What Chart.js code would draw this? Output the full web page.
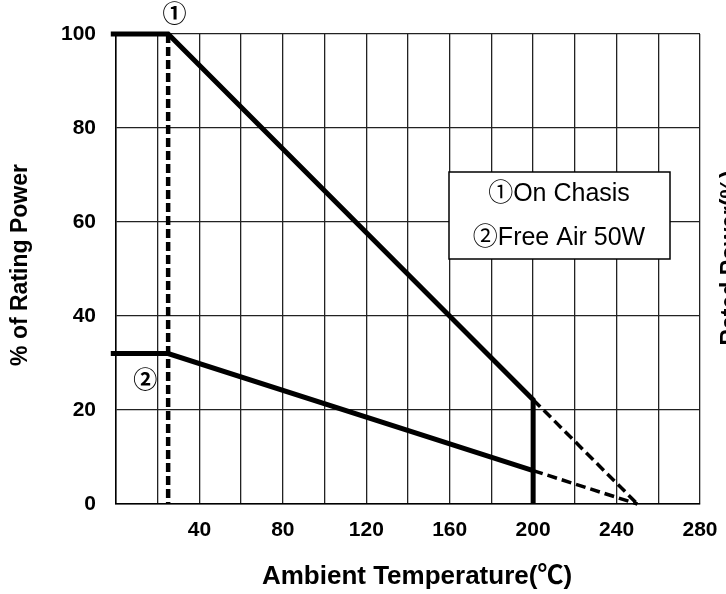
<!DOCTYPE html>
<html>
<head>
<meta charset="utf-8">
<script src="https://cdn.jsdelivr.net/npm/chart.js@4/dist/chart.umd.min.js"></script>
<style>
  html, body { margin: 0; padding: 0; background: #fff; }
  #wrap { width: 726px; height: 594px; }
</style>
</head>
<body>
<div id="wrap"><canvas id="chart" width="726" height="594"></canvas></div>
<script>
// derating data
const chassisTemp = [-2.5, 25, 200, 200];
const chassisPower = [100, 100, 22.2, 0];
const chassisExtTemp = [200, 250];
const chassisExtPower = [22.2, 0];
const freeAirTemp = [-2.5, 25, 200];
const freeAirPower = [32, 32, 7.1];
const freeAirExtTemp = [200, 250];
const freeAirExtPower = [7.1, 0];
const kneeTemp = [25, 25];
const kneePower = [100, 0];

const xMin = 0, xMax = 280, xStep = 20, xLabelStep = 40;
const yMin = 0, yMax = 100, yStep = 20;

const legendLines = ['\u2460On Chasis', '\u2461Free Air 50W'];
const xTitle = 'Ambient Temperature(\u2103)';
const yTitle = '% of Rating Power';
const rightTitle = 'Rated Power(%)';

const FONT = "'Liberation Sans', Arial, 'Noto Sans CJK JP', sans-serif";
Chart.defaults.font.family = FONT;
Chart.defaults.color = '#000';

const pts = (xs, ys) => xs.map((x, i) => ({ x: x, y: ys[i] }));

function line(xs, ys, width, dash) {
  return {
    data: pts(xs, ys),
    showLine: true,
    borderColor: '#000',
    borderWidth: width,
    borderDash: dash || [],
    pointRadius: 0,
    fill: false,
    clip: false,
    tension: 0
  };
}

const textPlugin = {
  id: 'texts',
  afterDatasetsDraw(chart) {
    const ctx = chart.ctx;
    const xs = chart.scales.x, ys = chart.scales.y;
    ctx.save();
    ctx.fillStyle = '#000';
    ctx.textAlign = 'center';
    ctx.textBaseline = 'middle';

    // circled markers next to the curves
    ctx.font = 'bold 24px ' + FONT;
    ctx.fillText('\u2460', xs.getPixelForValue(28), 15);
    ctx.fillText('\u2461', xs.getPixelForValue(14), ys.getPixelForValue(26));

    // legend box
    ctx.fillStyle = '#fff';
    ctx.fillRect(449, 172, 221, 87);
    ctx.strokeStyle = '#000';
    ctx.lineWidth = 1.5;
    ctx.strokeRect(449, 172, 221, 87);
    ctx.fillStyle = '#000';
    ctx.font = '25px ' + FONT;
    ctx.fillText(legendLines[0], 559, 194);
    ctx.fillText(legendLines[1], 559, 238);

    // axis titles
    ctx.font = 'bold 26px ' + FONT;
    ctx.fillText(xTitle, 417, 577);

    ctx.font = 'bold 23px ' + FONT;
    ctx.translate(21, 265);
    ctx.rotate(-Math.PI / 2);
    ctx.fillText(yTitle, 0, 0);
    ctx.restore();

    // second axis title, cut by the right edge
    ctx.save();
    ctx.font = 'bold 23px ' + FONT;
    ctx.fillStyle = '#000';
    ctx.textAlign = 'center';
    ctx.textBaseline = 'middle';
    ctx.translate(731, 258);
    ctx.rotate(-Math.PI / 2);
    ctx.fillText(rightTitle, 0, 0);
    ctx.restore();
  }
};

new Chart(document.getElementById('chart'), {
  type: 'scatter',
  data: {
    datasets: [
      line(chassisTemp, chassisPower, 5),
      line(chassisExtTemp, chassisExtPower, 3.5, [10, 5]),
      line(freeAirTemp, freeAirPower, 5),
      line(freeAirExtTemp, freeAirExtPower, 3.5, [10, 5]),
      line(kneeTemp, kneePower, 4.5, [9, 4])
    ]
  },
  options: {
    responsive: false,
    animation: false,
    devicePixelRatio: 1,
    layout: { padding: { top: 34, right: 26, left: 0, bottom: 0 } },
    plugins: { legend: { display: false }, tooltip: { enabled: false } },
    scales: {
      x: {
        type: 'linear',
        min: xMin, max: xMax,
        afterFit(scale) {
          scale.height = 90;
          scale.paddingLeft = 0;
          scale.paddingRight = 0;
        },
        afterBuildTicks(scale) {
          const t = [];
          for (let v = xMin; v <= xMax; v += xStep) t.push({ value: v });
          scale.ticks = t;
        },
        ticks: {
          autoSkip: false,
          maxRotation: 0,
          padding: 14,
          font: { size: 21, weight: 'bold' },
          callback: v => (v > 0 && v % xLabelStep === 0) ? v : ''
        },
        grid: { color: '#222', lineWidth: 1.3, drawTicks: false },
        border: { color: '#000', width: 1.5 }
      },
      y: {
        type: 'linear',
        min: yMin, max: yMax,
        afterFit(scale) {
          scale.width = 116;
          scale.paddingTop = 0;
          scale.paddingBottom = 0;
        },
        ticks: {
          stepSize: yStep,
          padding: 20,
          font: { size: 21, weight: 'bold' }
        },
        grid: { color: '#222', lineWidth: 1.3, drawTicks: false },
        border: { color: '#000', width: 1.5 }
      }
    }
  },
  plugins: [textPlugin]
});
</script>
</body>
</html>
